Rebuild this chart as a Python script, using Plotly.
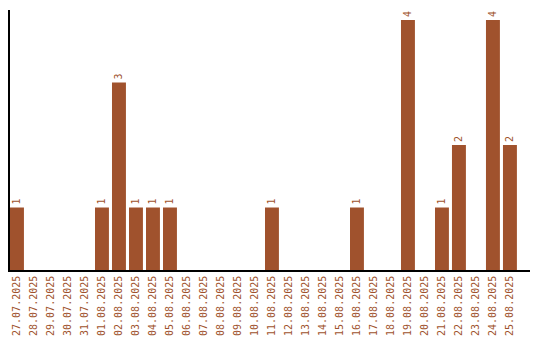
import plotly.graph_objects as go

dates = ["27.07.2025","28.07.2025","29.07.2025","30.07.2025","31.07.2025",
         "01.08.2025","02.08.2025","03.08.2025","04.08.2025","05.08.2025",
         "06.08.2025","07.08.2025","08.08.2025","09.08.2025","10.08.2025",
         "11.08.2025","12.08.2025","13.08.2025","14.08.2025","15.08.2025",
         "16.08.2025","17.08.2025","18.08.2025","19.08.2025","20.08.2025",
         "21.08.2025","22.08.2025","23.08.2025","24.08.2025","25.08.2025"]
counts = [1,0,0,0,0, 1,3,1,1,1, 0,0,0,0,0, 1,0,0,0,0, 1,0,0,4,0, 1,2,0,4,2]

color = "#A0522D"
labels = [str(v) if v else "" for v in counts]

fig = go.Figure(go.Bar(
    x=list(range(len(dates))), y=counts, marker_color=color, marker_line_width=0,
    width=0.82, text=labels, textposition="outside", textangle=-90,
    cliponaxis=False,
    textfont=dict(family="DejaVu Sans Mono", size=10, color=color),
))
fig.update_layout(
    width=540, height=340, margin=dict(l=10, r=10, t=10, b=70, autoexpand=False),
    plot_bgcolor="white", paper_bgcolor="white", showlegend=False,
    font=dict(family="DejaVu Sans Mono", size=10, color=color),
)
fig.update_xaxes(
    range=[-0.41, 30.18], tickmode="array", tickvals=list(range(len(dates))),
    ticktext=dates, tickangle=-90, showline=True, linecolor="black", linewidth=1.5,
    showgrid=False, zeroline=False, ticks="", automargin=False,
    tickfont=dict(family="DejaVu Sans Mono", size=10, color=color),
)
fig.update_yaxes(
    range=[0, 4.16], showticklabels=False, showline=True, linecolor="black",
    linewidth=1.5, showgrid=False, zeroline=False, ticks="", automargin=False,
)
fig.write_html("out.html")
